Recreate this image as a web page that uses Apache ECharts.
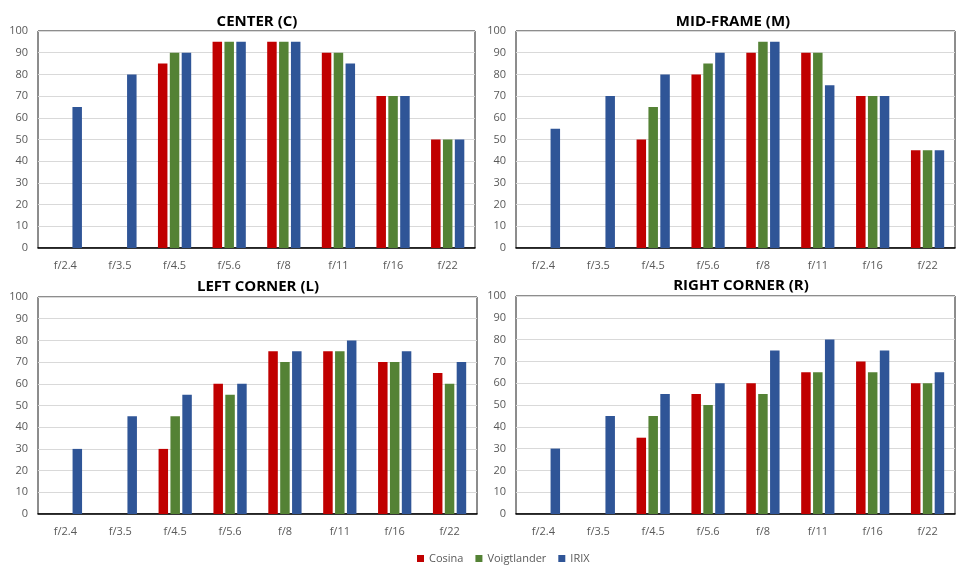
<!DOCTYPE html>
<html>
<head>
<meta charset="utf-8">
<script src="https://cdn.jsdelivr.net/npm/echarts@6/dist/echarts.min.js"></script>
<style>
  html, body { margin: 0; padding: 0; background: #fff; }
  #chart { width: 960px; height: 572px; }
</style>
</head>
<body>
<div id="chart"></div>
<script>
// f-stops
const apertures = ['f/2.4', 'f/3.5', 'f/4.5', 'f/5.6', 'f/8', 'f/11', 'f/16', 'f/22'];
const lensNames = ['Cosina', 'Voigtlander', 'IRIX'];
const panelTitles = ['CENTER (C)', 'MID-FRAME (M)', 'LEFT CORNER (L)', 'RIGHT CORNER (R)'];

// center
const centerCosina = [null, null, 85, 95, 95, 90, 70, 50];
const centerVoigt = [null, null, 90, 95, 95, 90, 70, 50];
const centerIrix = [65, 80, 90, 95, 95, 85, 70, 50];
// mid-frame
const midCosina = [null, null, 50, 80, 90, 90, 70, 45];
const midVoigt = [null, null, 65, 85, 95, 90, 70, 45];
const midIrix = [55, 70, 80, 90, 95, 75, 70, 45];
// left corner
const leftCosina = [null, null, 30, 60, 75, 75, 70, 65];
const leftVoigt = [null, null, 45, 55, 70, 75, 70, 60];
const leftIrix = [30, 45, 55, 60, 75, 80, 75, 70];
// right corner
const rightCosina = [null, null, 35, 55, 60, 65, 70, 60];
const rightVoigt = [null, null, 45, 50, 55, 65, 65, 60];
const rightIrix = [30, 45, 55, 60, 75, 80, 75, 65];

const yTicks = [0, 100, 10]; // min, max, step

const panelData = [
  [centerCosina, centerVoigt, centerIrix],
  [midCosina, midVoigt, midIrix],
  [leftCosina, leftVoigt, leftIrix],
  [rightCosina, rightVoigt, rightIrix],
];

const colors = ['#C00000', '#548235', '#2F5597'];
const font = 'Open Sans, Noto Sans, sans-serif';

// plot boxes (left, top, width, height) and title centres
const boxes = [
  { left: 38, top: 31, width: 437, height: 217, tx: 252, ty: 9 },
  { left: 516, top: 31, width: 439, height: 217, tx: 728, ty: 9 },
  { left: 38, top: 297, width: 439, height: 217, tx: 253, ty: 274 },
  { left: 516, top: 296, width: 439, height: 218, tx: 736, ty: 273 },
];

const chart = echarts.init(document.getElementById('chart'));

const grids = [], xAxes = [], yAxes = [], titles = [], series = [];
boxes.forEach((b, i) => {
  grids.push({
    left: b.left, top: b.top, width: b.width, height: b.height,
    show: true, borderColor: '#1a1a1a', borderWidth: 1, containLabel: false,
  });
  titles.push({
    text: panelTitles[i],
    left: b.tx, top: b.ty, textAlign: 'center',
    textStyle: { fontFamily: font, fontSize: 15, fontWeight: 'bold', color: '#000' },
  });
  xAxes.push({
    type: 'category', gridIndex: i, data: apertures,
    axisTick: { show: false },
    axisLine: { lineStyle: { color: '#000', width: 1.5 } },
    axisLabel: { color: '#595959', fontFamily: font, fontSize: 11, margin: 12 },
  });
  yAxes.push({
    type: 'value', gridIndex: i, min: yTicks[0], max: yTicks[1], interval: yTicks[2],
    axisLine: { show: false }, axisTick: { show: false },
    splitLine: { lineStyle: { color: '#d9d9d9' } },
    axisLabel: { color: '#595959', fontFamily: font, fontSize: 11, margin: 10 },
  });
  panelData[i].forEach((vals, s) => {
    series.push({
      name: lensNames[s], type: 'bar', xAxisIndex: i, yAxisIndex: i,
      data: vals, barWidth: 9.5, barGap: '25%',
      itemStyle: { color: colors[s] },
      emphasis: { disabled: true },
    });
  });
});

chart.setOption({
  animation: false,
  title: titles,
  grid: grids,
  xAxis: xAxes,
  yAxis: yAxes,
  legend: {
    data: lensNames, bottom: 3, left: 412,
    icon: 'rect', itemWidth: 7, itemHeight: 7, itemGap: 12,
    textStyle: { color: '#595959', fontFamily: font, fontSize: 11 },
  },
  series: series,
});
</script>
</body>
</html>
